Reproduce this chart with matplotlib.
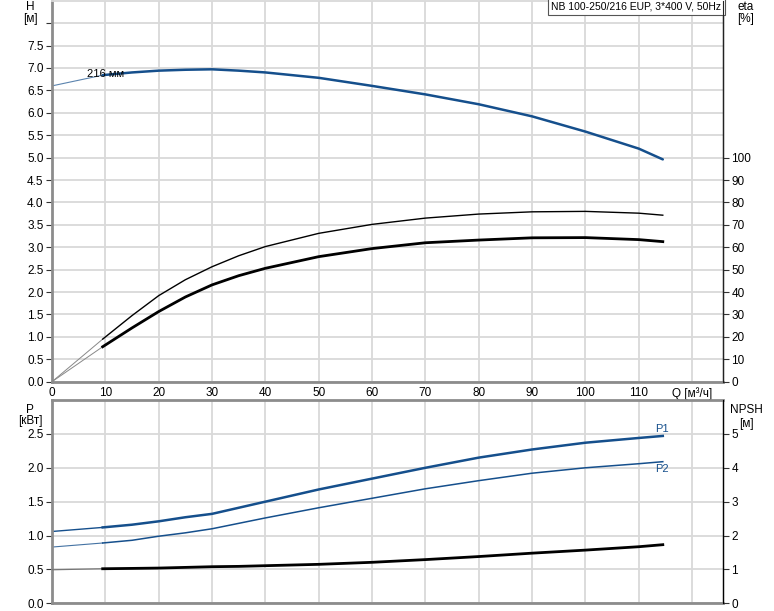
import matplotlib.pyplot as plt
import numpy as np

plt.rcParams['font.family'] = ['Liberation Sans', 'DejaVu Sans']
plt.rcParams['font.size'] = 7.5

# flow points, m3/h
q = np.array([0, 9.5, 15, 20, 25, 30, 35, 40, 50, 60, 70, 80, 90, 100, 110, 114.5])

head = np.array([6.6, 6.84, 6.9, 6.94, 6.96, 6.97, 6.94, 6.9, 6.78, 6.6, 6.41,
                 6.19, 5.92, 5.58, 5.2, 4.96])
eta_pump = np.array([0, 19, 29.5, 38.4, 45.5, 51.3, 56.2, 60.3, 66.2, 70.2, 73,
                     74.8, 75.8, 76, 75.2, 74.3])
eta_total = np.array([0, 15.6, 24, 31.3, 37.8, 43.2, 47.3, 50.6, 55.8, 59.4, 62,
                      63.2, 64.2, 64.3, 63.4, 62.5])
p1 = np.array([1.06, 1.12, 1.16, 1.21, 1.27, 1.32, 1.41, 1.50, 1.68, 1.84, 2.0,
               2.15, 2.27, 2.37, 2.44, 2.47])
p2 = np.array([0.83, 0.89, 0.93, 0.99, 1.04, 1.10, 1.18, 1.26, 1.41, 1.55, 1.69,
               1.81, 1.92, 2.0, 2.06, 2.09])
npsh = np.array([0.99, 1.02, 1.03, 1.04, 1.06, 1.08, 1.09, 1.11, 1.15, 1.21, 1.29,
                 1.38, 1.48, 1.57, 1.67, 1.73])

x_ticks = list(range(0, 130, 10))
x_labels = [str(v) for v in range(0, 120, 10)] + ['Q [м³/ч]']
eta_ticks = list(range(0, 110, 10))
p_ticks = np.arange(0, 3.0, 0.5)
npsh_ticks = list(range(0, 6))

title = 'NB 100-250/216 EUP, 3*400 V, 50Hz'

blue = '#154f8c'
grid_c = '#d9d9d9'
spine_c = '#8c8c8c'
tick_fs = 8.5

fig = plt.figure(figsize=(7.74, 6.11), dpi=100)
ax_h = fig.add_axes([0.0672, 0.3753, 0.867, 0.6235])
ax_p = fig.add_axes([0.0672, 0.0126, 0.867, 0.3327])


def style(ax):
    ax.set_xlim(0, 125.8)
    ax.set_xticks(x_ticks)
    ax.grid(True, color=grid_c, lw=1.3)
    ax.set_axisbelow(True)
    for s in ('left', 'bottom', 'top'):
        ax.spines[s].set_color(spine_c)
        ax.spines[s].set_linewidth(2)
    ax.spines['top'].set_color(grid_c)
    ax.spines['top'].set_linewidth(1.3)
    ax.spines['right'].set_color('#222222')
    ax.spines['right'].set_linewidth(1)
    ax.tick_params(axis='both', length=4, width=0.8, color='#333333', pad=2,
                   labelsize=tick_fs)


style(ax_h)
style(ax_p)

# top chart: head + efficiency
h_ticks = np.arange(0, 8.5, 0.5)
ax_h.set_ylim(0, 8.5)
ax_h.set_yticks(h_ticks)
ax_h.set_yticklabels([f'{v:.1f}' if v < 7.9 else '' for v in h_ticks])
ax_h.set_xticklabels(x_labels)
ax_h.tick_params(axis='x', length=0, pad=4)
for t in ax_h.yaxis.get_major_ticks():
    if t.get_loc() > 7.9:
        t.tick1line.set_visible(False)

ax_h.plot(q[:2], head[:2], color=blue, lw=0.8, alpha=0.7)
ax_h.plot(q[1:], head[1:], color=blue, lw=1.8, solid_capstyle='round')
ax_h.text(6.6, 6.87, '216 мм', fontsize=8, va='center')

ax_e = ax_h.twinx()
ax_e.set_ylim(0, 170)
ax_e.set_yticks(eta_ticks)
ax_e.tick_params(axis='y', length=4, width=0.8, color='#333333', pad=2,
                 labelsize=tick_fs)
ax_e.spines['right'].set_color('#222222')
for s in ('left', 'bottom', 'top'):
    ax_e.spines[s].set_visible(False)
ax_e.plot(q[:2], eta_pump[:2], color='#888888', lw=0.7)
ax_e.plot(q[1:], eta_pump[1:], color='black', lw=1.0)
ax_e.plot(q[:2], eta_total[:2], color='#888888', lw=0.7)
ax_e.plot(q[1:], eta_total[1:], color='black', lw=2.0)

ax_h.text(0.9975, 0.998, title, transform=ax_h.transAxes, ha='right', va='top',
          fontsize=7.5, zorder=5,
          bbox=dict(boxstyle='square,pad=0.3', fc='white', ec='#555555', lw=0.8))

fig.text(30 / 774, 1 - 7 / 611, 'H', ha='center', va='center', fontsize=tick_fs)
fig.text(30 / 774, 1 - 19 / 611, '[м]', ha='center', va='center', fontsize=tick_fs)
fig.text(746 / 774, 1 - 7 / 611, 'eta', ha='center', va='center', fontsize=tick_fs)
fig.text(746 / 774, 1 - 19 / 611, '[%]', ha='center', va='center', fontsize=tick_fs)

# bottom chart: power + NPSH
ax_p.set_ylim(0, 3.0)
ax_p.set_yticks(p_ticks)
ax_p.set_yticklabels([f'{v:.1f}' for v in p_ticks])
ax_p.set_xticklabels([])
ax_p.tick_params(axis='x', length=0)
ax_p.spines['top'].set_color(spine_c)
ax_p.spines['top'].set_linewidth(2)

ax_p.plot(q[:2], p1[:2], color=blue, lw=1.0)
ax_p.plot(q[1:], p1[1:], color=blue, lw=1.8)
ax_p.plot(q[:2], p2[:2], color=blue, lw=0.8, alpha=0.8)
ax_p.plot(q[1:], p2[1:], color=blue, lw=1.1)
ax_p.text(q[-1] - 1.5, p1[-1] + 0.03, 'P1', color=blue, fontsize=8, va='bottom')
ax_p.text(q[-1] - 1.5, p2[-1] - 0.04, 'P2', color=blue, fontsize=8, va='top')

ax_n = ax_p.twinx()
ax_n.set_ylim(0, 6)
ax_n.set_yticks(npsh_ticks)
ax_n.tick_params(axis='y', length=4, width=0.8, color='#333333', pad=2,
                 labelsize=tick_fs)
for s in ('left', 'bottom', 'top'):
    ax_n.spines[s].set_visible(False)
ax_n.plot(q[:2], npsh[:2], color='#777777', lw=0.9)
ax_n.plot(q[1:], npsh[1:], color='black', lw=2.0)

fig.text(30 / 774, 1 - 410 / 611, 'P', ha='center', va='center', fontsize=tick_fs)
fig.text(30 / 774, 1 - 421 / 611, '[кВт]', ha='center', va='center', fontsize=tick_fs)
fig.text(746 / 774, 1 - 410 / 611, 'NPSH', ha='center', va='center', fontsize=tick_fs)
fig.text(746 / 774, 1 - 424 / 611, '[м]', ha='center', va='center', fontsize=tick_fs)

fig.savefig('out.png', dpi=100)
